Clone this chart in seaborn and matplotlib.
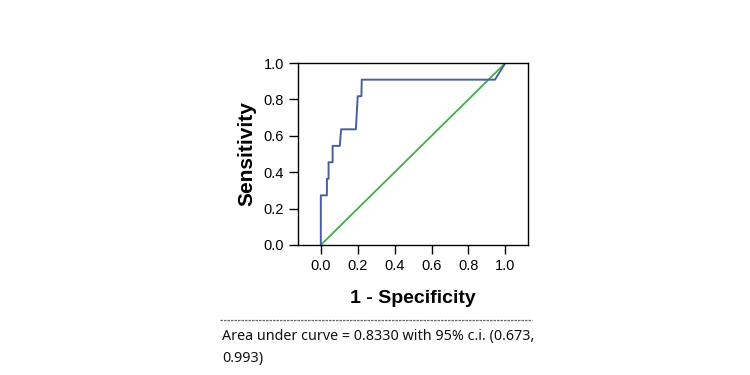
import numpy as np
import matplotlib
matplotlib.use("Agg")
import matplotlib.pyplot as plt
import seaborn as sns
from matplotlib.lines import Line2D

# ROC curve points
fpr = [0.0, 0.0, 0.033, 0.033, 0.042, 0.042, 0.064, 0.064, 0.103, 0.11, 0.19, 0.2, 0.22, 0.222, 0.944, 1.0]
tpr = [0.0, 0.273, 0.273, 0.364, 0.364, 0.455, 0.455, 0.545, 0.545, 0.636, 0.636, 0.818, 0.818, 0.909, 0.909, 1.0]
ref_x = [0.0, 1.0]
ref_y = [0.0, 1.0]
ticks = [0.0, 0.2, 0.4, 0.6, 0.8, 1.0]
note = "Area under curve = 0.8330 with 95% c.i. (0.673,\n0.993)"

sns.set_style("ticks")
plt.rcParams['font.family'] = ['Liberation Sans', 'DejaVu Sans']

fig = plt.figure(figsize=(7.5, 3.75), dpi=100)
ax = fig.add_axes([0.397, 0.3467, 0.307, 0.485])

sns.lineplot(x=ref_x, y=ref_y, ax=ax, color="#3fae4c", linewidth=1.3, sort=False, estimator=None)
sns.lineplot(x=fpr, y=tpr, ax=ax, color="#4a5e9c", linewidth=1.4, sort=False, estimator=None)

ax.set_xlim(-0.125, 1.123)
ax.set_ylim(0, 1)
ax.set_xticks(ticks)
ax.set_yticks(ticks)
ax.set_xticklabels([f"{t:.1f}" for t in ticks])
ax.set_yticklabels([f"{t:.1f}" for t in ticks])
ax.tick_params(direction="out", length=6.5, width=1, labelsize=10.5, colors="black")
for s in ax.spines.values():
    s.set_color("black")
    s.set_linewidth(1)
ax.set_xlabel("1 - Specificity", fontsize=14, fontweight="bold", labelpad=12, color="black")
ax.set_ylabel("Sensitivity", fontsize=15, fontweight="bold", labelpad=5, color="black")

# dashed separator and note below the chart
fig.add_artist(Line2D([220/750, 532/750], [1 - 320/375, 1 - 320/375],
                      transform=fig.transFigure, color="#666666", linewidth=0.9, linestyle=(0, (2, 0.8))))
fig.text(222/750, 1 - 329/375, note, fontsize=10.3, va="top", ha="left", color="#111111",
         family=["Noto Sans", "DejaVu Sans"], linespacing=1.6)

fig.savefig("out.png", dpi=100)
